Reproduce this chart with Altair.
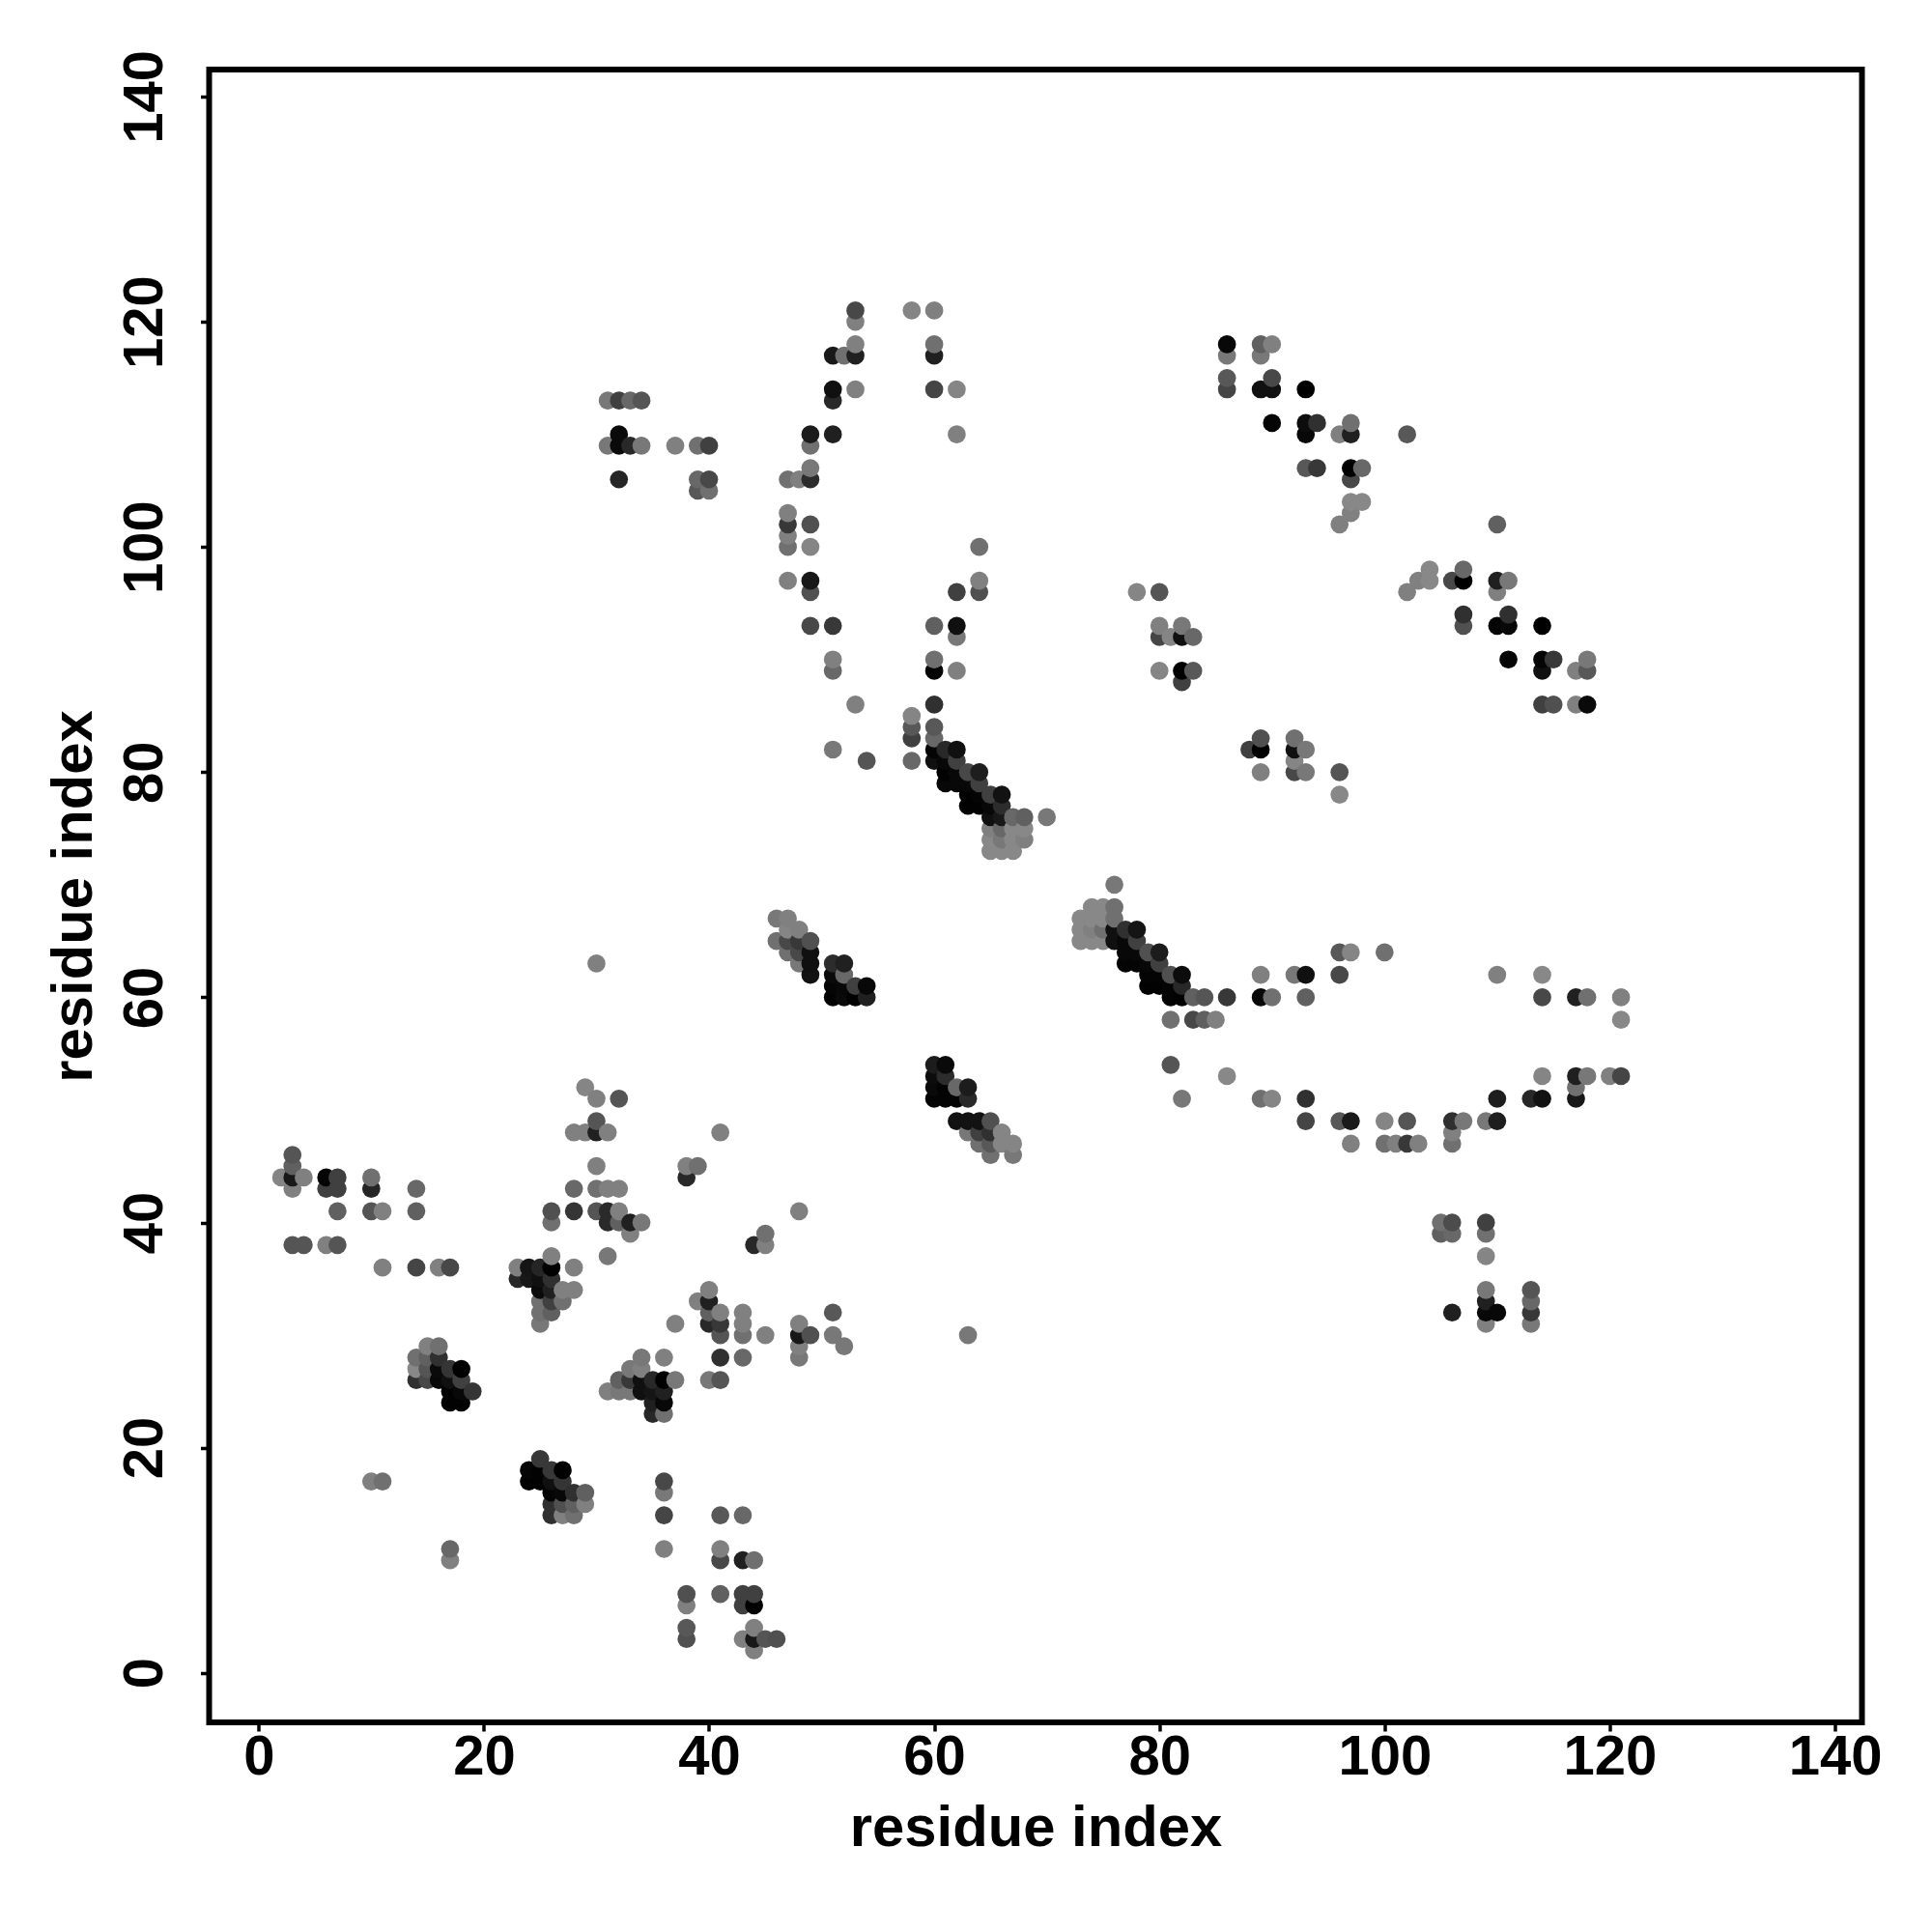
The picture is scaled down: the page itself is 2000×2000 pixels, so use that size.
import altair as alt
import pandas as pd

# (residue i, residue j, grey level of the dot)
lower_left = [
(29,52,0x85),(30,51,0x80),(32,51,0x55),(30,49,0x55),(30,48,0x20),(28,48,0x80),(29,48,0x80),(31,48,0x80),(41,48,0x80),
(30,45,0x80),(38,45,0x80),(39,45,0x70),(38,44,0x28),(3,46,0x55),(3,45,0x60),(2,44,0x85),(3,44,0x18),(4,44,0x80),(3,43,0x80),
(6,44,0x05),(7,44,0x40),(6,43,0x40),(7,43,0x40),(10,44,0x70),(10,43,0x25),(14,43,0x68),(7,41,0x60),(10,41,0x55),(11,41,0x80),(14,41,0x60),
(3,38,0x55),(4,38,0x55),(6,38,0x80),(7,38,0x55),(11,36,0x80),(14,36,0x45),(16,36,0x80),(17,36,0x48),
(28,43,0x68),(30,43,0x70),(31,43,0x80),(32,43,0x80),(26,41,0x50),(26,40,0x70),(28,41,0x35),(30,41,0x55),(31,41,0x2a),(32,41,0x80),
(31,40,0x2a),(32,40,0x60),(33,40,0x20),(34,40,0x78),(33,39,0x80),(31,37,0x78),(48,41,0x80),(45,39,0x70),(44,38,0x28),(45,38,0x80),
(30,63,0x80),(63,30,0x78),
]
cluster_25_34 = [
(26,37,0x80),(23,36,0x80),(24,36,0x15),(25,36,0x25),(26,36,0x02),(28,36,0x80),(23,35,0x28),(24,35,0x18),(25,35,0x10),(26,35,0x30),
(25,34,0x0a),(26,34,0x20),(27,34,0x80),(28,34,0x80),(25,33,0x70),(26,33,0x40),(27,33,0x70),(25,32,0x70),(26,32,0x60),(25,31,0x78),
]
cluster_40_31 = [
(40,34,0x80),(39,33,0x80),(40,33,0x20),(40,32,0x60),(41,32,0x80),(43,32,0x80),(37,31,0x80),(40,31,0x28),(41,31,0x38),(43,31,0x80),
(41,30,0x55),(43,30,0x70),(45,30,0x80),(48,31,0x80),(48,30,0x18),(49,30,0x50),(48,29,0x80),(48,28,0x78),(41,28,0x30),(43,28,0x68),
(40,26,0x78),(41,26,0x55),(51,32,0x58),(51,30,0x78),(52,29,0x78),
]
cluster_16_26 = [
(15,29,0x80),(16,29,0x70),(14,28,0x70),(15,28,0x60),(16,28,0x30),(14,27,0x88),(15,27,0x55),(16,27,0x0a),(17,27,0x35),(18,27,0x02),
(14,26,0x30),(15,26,0x48),(16,26,0x08),(17,26,0x10),(18,26,0x40),(17,25,0x02),(18,25,0x08),(19,25,0x35),(17,24,0x02),(18,24,0x02),
]
cluster_34_25 = [
(34,28,0x78),(36,28,0x80),(33,27,0x78),(34,27,0x80),(32,26,0x60),(33,26,0x38),(34,26,0x10),(35,26,0x28),(36,26,0x02),(37,26,0x78),
(31,25,0x80),(32,25,0x78),(33,25,0x78),(34,25,0x10),(35,25,0x15),(36,25,0x20),(35,24,0x20),(36,24,0x08),(35,23,0x28),(36,23,0x70),
]
cluster_26_16 = [
(25,19,0x38),(24,18,0x05),(25,18,0x02),(26,18,0x38),(27,18,0x02),(24,17,0x02),(25,17,0x02),(26,17,0x10),(27,17,0x35),(26,16,0x05),
(27,16,0x08),(28,16,0x30),(29,16,0x60),(26,15,0x30),(27,15,0x50),(28,15,0x60),(29,15,0x80),(26,14,0x30),(27,14,0x80),(28,14,0x70),
]
bottom = [
(10,17,0x80),(11,17,0x70),(17,11,0x68),(17,10,0x80),(36,17,0x48),(36,16,0x78),(36,14,0x45),(41,14,0x58),(43,14,0x68),(36,11,0x80),
(41,11,0x80),(41,10,0x48),(43,10,0x20),(44,10,0x70),(38,7,0x50),(38,6,0x80),(41,7,0x60),(43,7,0x40),(44,7,0x40),(43,6,0x40),(44,6,0x02),
(38,4,0x58),(38,3,0x50),(44,4,0x80),(43,3,0x80),(44,3,0x18),(45,3,0x55),(46,3,0x50),(44,2,0x80),
]
upper_arc = [
(53,121,0x48),(53,120,0x80),(58,121,0x85),(60,121,0x80),(53,118,0x80),(51,117,0x18),(52,117,0x70),(53,117,0x20),(60,118,0x70),(60,117,0x20),
(51,114,0x10),(51,113,0x28),(53,114,0x80),(60,114,0x45),(62,114,0x85),(31,113,0x78),(32,113,0x40),(33,113,0x68),(34,113,0x55),
(32,110,0x0a),(31,109,0x78),(32,109,0x0a),(33,109,0x28),(34,109,0x78),(37,109,0x80),(39,109,0x70),(40,109,0x40),
(49,110,0x1c),(49,109,0x70),(51,110,0x20),(62,110,0x80),(32,106,0x25),(39,106,0x68),(40,106,0x48),(39,105,0x58),(40,105,0x70),
(49,107,0x78),(47,106,0x70),(48,106,0x80),(49,106,0x2c),(47,103,0x80),(47,102,0x38),(49,102,0x50),(47,101,0x80),(47,100,0x70),(49,100,0x85),(64,100,0x70),
(47,97,0x80),(49,97,0x18),(49,96,0x50),(62,96,0x40),(64,97,0x80),(64,96,0x50),(49,93,0x48),(51,93,0x38),(60,93,0x60),(62,93,0x10),(62,92,0x78),
(51,90,0x80),(51,89,0x68),(60,90,0x70),(60,89,0x05),(62,89,0x80),(53,86,0x80),(60,86,0x30),(58,85,0x85),(58,84,0x58),(58,83,0x40),(60,84,0x58),(60,83,0x68),
(51,82,0x78),(54,81,0x55),(58,81,0x68),
]
cluster_63_78 = [
(60,82,0x05),(61,82,0x28),(62,82,0x10),(60,81,0x10),(61,81,0x08),(62,81,0x40),(61,80,0x02),(62,80,0x08),(63,80,0x48),(64,80,0x1e),
(61,79,0x08),(62,79,0x08),(63,79,0x08),(64,79,0x40),(63,78,0x02),(64,78,0x05),(65,78,0x40),(66,78,0x12),(63,77,0x02),(64,77,0x02),(65,77,0x08),(66,77,0x2c),
(65,76,0x10),(66,76,0x18),(67,76,0x68),(68,76,0x60),(70,76,0x78),(65,75,0x80),(66,75,0x68),(67,75,0x88),(68,75,0x88),
(65,74,0x88),(66,74,0x78),(67,74,0x88),(68,74,0x80),(65,73,0x88),(66,73,0x88),(67,73,0x88),
]
upper_right = [
(86,118,0x08),(86,117,0x78),(89,118,0x60),(90,118,0x80),(89,117,0x78),(86,115,0x58),(86,114,0x45),(89,114,0x10),(90,115,0x48),(90,114,0x10),(93,114,0x00),
(90,111,0x05),(93,111,0x0c),(94,111,0x30),(93,110,0x08),(96,110,0x80),(97,111,0x70),(97,110,0x20),(102,110,0x58),
(93,107,0x58),(94,107,0x38),(97,107,0x00),(98,107,0x68),(97,106,0x48),(97,104,0x88),(98,104,0x88),(97,103,0x80),(96,102,0x80),(110,102,0x60),
(104,98,0x88),(103,97,0x80),(104,97,0x88),(102,96,0x80),(106,97,0x48),(107,98,0x68),(107,97,0x00),(110,97,0x20),(111,97,0x78),(110,96,0x80),
(107,94,0x30),(107,93,0x50),(110,93,0x05),(111,94,0x30),(111,93,0x08),(114,93,0x00),(111,90,0x05),(114,90,0x05),(115,90,0x38),(114,89,0x10),
(117,89,0x80),(118,90,0x78),(118,89,0x58),(114,86,0x40),(115,86,0x50),(117,86,0x80),(118,86,0x0a),
(78,96,0x85),(80,96,0x55),(80,93,0x80),(82,93,0x78),(80,92,0x45),(81,92,0x85),(82,92,0x10),(83,92,0x68),(80,89,0x85),(82,89,0x00),(83,89,0x58),(82,88,0x40),
(88,82,0x40),(89,83,0x50),(89,82,0x00),(92,83,0x70),(92,82,0x10),(93,82,0x78),(92,81,0x85),(89,80,0x80),(92,80,0x48),(93,80,0x78),(96,80,0x55),(96,78,0x88),
]
right_arc = [
(96,64,0x58),(97,64,0x85),(100,64,0x70),(96,62,0x48),(110,62,0x80),(114,62,0x88),(114,60,0x48),(117,60,0x20),(118,60,0x70),(121,60,0x80),(121,58,0x88),
(114,53,0x85),(117,53,0x20),(118,53,0x78),(120,53,0x80),(121,53,0x45),(117,52,0x70),(117,51,0x18),(110,51,0x1e),(113,51,0x28),(114,51,0x12),
(96,49,0x58),(97,49,0x1a),(100,49,0x85),(102,49,0x55),(106,49,0x30),(107,49,0x78),(106,48,0x80),(109,49,0x78),(110,49,0x1e),
(97,47,0x80),(100,47,0x70),(101,47,0x80),(102,47,0x38),(103,47,0x80),(106,47,0x70),
(105,40,0x70),(106,40,0x4c),(105,39,0x60),(106,39,0x68),(109,40,0x40),(109,39,0x70),(109,37,0x85),
(109,34,0x78),(109,33,0x20),(106,32,0x20),(109,32,0x08),(110,32,0x08),(109,31,0x80),(113,34,0x55),(113,33,0x68),(113,32,0x38),(113,31,0x78),
]
cluster_50_62 = [
(46,67,0x78),(47,67,0x80),(47,66,0x85),(48,66,0x80),(46,65,0x70),(47,65,0x48),(48,65,0x38),(49,65,0x50),(47,64,0x70),(48,64,0x48),(49,64,0x10),
(48,63,0x78),(49,63,0x10),(49,62,0x12),(51,63,0x2c),(52,63,0x20),(51,62,0x0a),(52,62,0x68),(51,61,0x05),(52,61,0x08),(53,61,0x40),(54,61,0x08),
(51,60,0x02),(52,60,0x0a),(53,60,0x02),(54,60,0x20),
]
cluster_63_50 = [
(60,54,0x1c),(61,54,0x0a),(60,53,0x0c),(61,53,0x2c),(60,52,0x0a),(61,52,0x04),(62,52,0x68),(63,52,0x1c),(60,51,0x04),(61,51,0x04),(62,51,0x04),(63,51,0x2a),
(62,49,0x12),(63,49,0x12),(64,49,0x12),(65,49,0x50),(63,48,0x78),(64,48,0x40),(65,48,0x30),(66,48,0x85),(64,47,0x70),(65,47,0x58),(66,47,0x85),(67,47,0x85),(65,46,0x70),(67,46,0x78),
]
cluster_78_63 = [
(76,70,0x78),(74,68,0x88),(75,68,0x88),(76,68,0x70),(73,67,0x88),(74,67,0x88),(75,67,0x88),(76,67,0x70),(73,66,0x88),(74,66,0x80),(75,66,0x70),(76,66,0x10),(77,66,0x30),(78,66,0x14),
(73,65,0x88),(74,65,0x88),(75,65,0x88),(76,65,0x10),(77,65,0x08),(78,65,0x40),(77,64,0x08),(78,64,0x08),(79,64,0x50),(80,64,0x1c),
(77,63,0x04),(78,63,0x04),(79,63,0x08),(80,63,0x40),(79,62,0x04),(80,62,0x04),(81,62,0x50),(82,62,0x0c),(79,61,0x02),(80,61,0x02),(81,61,0x04),(82,61,0x28),
(81,60,0x04),(82,60,0x02),(83,60,0x60),(84,60,0x55),(86,60,0x38),(81,58,0x70),(83,58,0x48),(84,58,0x60),(85,58,0x80),
(89,62,0x80),(92,62,0x78),(93,62,0x10),(89,60,0x08),(90,60,0x70),(93,60,0x60),
(81,54,0x55),(86,53,0x88),(82,51,0x78),(89,51,0x70),(90,51,0x85),(93,51,0x30),(93,49,0x45),
]

rows = (lower_left + cluster_25_34 + cluster_40_31 + cluster_16_26 + cluster_34_25 + cluster_26_16 + bottom
        + upper_arc + cluster_63_78 + upper_right + right_arc + cluster_50_62 + cluster_63_50 + cluster_78_63)
df = pd.DataFrame(rows, columns=["i", "j", "g"]).drop_duplicates(["i", "j"]).sort_values(["i", "j"])
df["shade"] = df["g"].map(lambda g: f"#{g:02x}{g:02x}{g:02x}")

ticks = list(range(0, 141, 20))
FONT = "Liberation Sans"

x_axis = alt.Axis(values=ticks, title="residue index", grid=False, domain=False, tickColor="black",
                  tickWidth=3.5, tickSize=9, labelFont=FONT, labelFontWeight="bold", labelFontSize=58,
                  labelColor="black", labelPadding=-2, titleFont=FONT, titleFontWeight="bold",
                  titleFontSize=59.8, titleColor="black", titlePadding=15, labelFlush=False, labelOverlap=False)
y_axis = alt.Axis(values=ticks, title="residue index", grid=False, domain=False, tickColor="black",
                  tickWidth=3.5, tickSize=9, labelFont=FONT, labelFontWeight="bold", labelFontSize=58,
                  labelColor="black", labelAngle=270, labelAlign="center", labelBaseline="bottom", labelPadding=28.5,
                  titleFont=FONT, titleFontWeight="bold", titleFontSize=59.8, titleColor="black", titlePadding=14,
                  labelFlush=False, labelOverlap=False)

chart = alt.Chart(df).mark_circle(size=350, opacity=1, stroke=None).encode(
    x=alt.X("i:Q", scale=alt.Scale(domain=[-4.4, 142.4], nice=False, zero=False), axis=x_axis),
    y=alt.Y("j:Q", scale=alt.Scale(domain=[-4.4, 142.4], nice=False, zero=False), axis=y_axis),
    color=alt.Color("shade:N", scale=None),
).properties(width=1711, height=1711, background="white",
             padding={"left": 37.5, "top": 43, "right": 5, "bottom": 5}).configure_view(
    stroke="black", strokeWidth=6, fill="white"
)

chart.save("out.html", embed_options={"renderer": "svg", "actions": False})
